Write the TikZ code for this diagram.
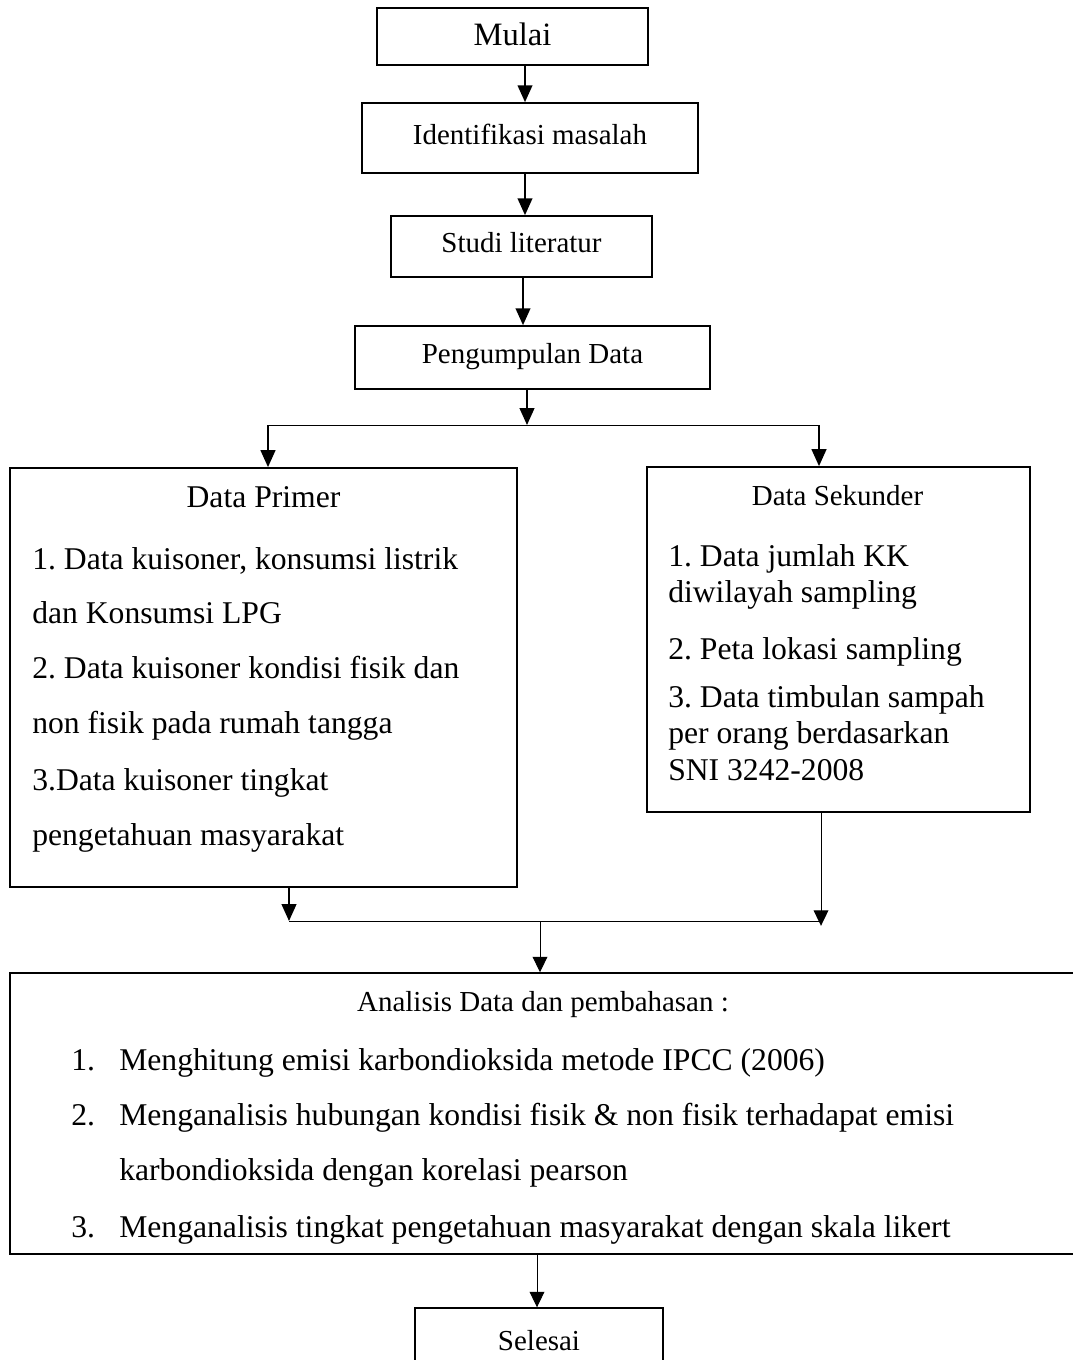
\documentclass[tikz,border=0pt]{standalone}
\usepackage{fontspec}
\setmainfont{Liberation Serif}
\usetikzlibrary{arrows.meta}
\frenchspacing
\tikzset{
    box/.style={draw=black, line width=1.2pt, inner sep=0pt,
        font=\fontsize{20.6}{25}\selectfont, text height=12.8pt, text depth=4pt},
    flow/.style={draw=black, line width=1.2pt, -{Triangle[length=12pt,width=10.5pt]}},
    thinflow/.style={draw=black, line width=0.7pt, -{Triangle[length=11pt,width=10.5pt]}},
    thinline/.style={draw=black, line width=0.7pt},
    bodytext/.style={font=\fontsize{22.5}{27}\selectfont, inner sep=0pt, anchor=base west},
    headtext/.style={font=\fontsize{20.6}{25}\selectfont, inner sep=0pt, anchor=base},
}

\begin{document}
\begin{tikzpicture}[x=0.025cm, y=-0.025cm]

\useasboundingbox (0,0) rectangle (1072,1360);

		% top chain
		\node[box, minimum width=6.775cm, minimum height=1.425cm,
			font=\fontsize{23.2}{27}\selectfont, text height=13pt, text depth=0pt] (mulai) at (512.5,36.5) {Mulai};
		\node[box, minimum width=8.4cm, minimum height=1.75cm] (ident) at (530,138) {Identifikasi masalah};
		\node[box, minimum width=6.525cm, minimum height=1.525cm] (studi) at (521.5,246.5) {Studi literatur};
		\node[box, minimum width=8.875cm, minimum height=1.575cm] (kumpul) at (532.5,357.5) {Pengumpulan Data};

		\draw[flow] ([xshift=0.3125cm]mulai.south) coordinate (a1) -- (a1 |- ident.north);
		\draw[flow] ([xshift=-0.125cm]ident.south) coordinate (a2) -- (a2 |- studi.north);
		\draw[flow] ([xshift=0.0375cm]studi.south) coordinate (a3) -- (a3 |- kumpul.north);

		% data boxes
		\node[box, minimum width=12.675cm, minimum height=10.475cm] (primer) at (263.5,677.5) {};
		\node[box, minimum width=9.575cm, minimum height=8.625cm] (sekunder) at (838.5,639.5) {};

		\coordinate (split) at (527,425);
		\coordinate (splitL) at (268,425);
		\coordinate (splitR) at (819,425);
		\draw[flow] (split |- kumpul.south) -- (split);
		\draw[thinline] (splitL) -- (splitR);
		\draw[flow] (splitL) -- (splitL |- primer.north);
		\draw[flow] (splitR) -- (splitR |- sekunder.north);

		\node[bodytext, anchor=base] (primerhead) at (263.5,507) {Data Primer};
		\foreach \yy/\txt [count=\i] in {569/{1. Data kuisoner, konsumsi listrik},
				623/{dan Konsumsi LPG},
				678/{2. Data kuisoner kondisi fisik dan},
				733/{non fisik pada rumah tangga},
				790/{3.Data kuisoner tingkat},
				845/{pengetahuan masyarakat}}
			\node[bodytext] (primer\i) at (32,\yy) {\txt};

		\node[headtext] (sekunderhead) at (837.5,505) {Data Sekunder};
		\foreach \yy/\txt [count=\i] in {566/{1. Data jumlah KK},
				602/{diwilayah sampling},
				659/{2. Peta lokasi sampling},
				707/{3. Data timbulan sampah},
				743/{per orang berdasarkan},
				780/{SNI 3242-2008}}
			\node[bodytext] (sekunder\i) at (668,\yy) {\txt};

		% analysis
		\node[box, line width=1pt, minimum width=26.65cm, minimum height=7.025cm] (analisis) at (543,1113.5) {};

		\coordinate (mergeL) at (289,921);
		\coordinate (mergeR) at (821,921);
		\coordinate (merge) at (540,921);
		\draw[flow] (mergeL |- primer.south) -- (mergeL);
		\draw[thinflow] (mergeR |- sekunder.south) -- ([yshift=-0.12cm]mergeR);
		\draw[thinline] (mergeL) -- (mergeR);
		\draw[thinflow] (merge) -- (merge |- analisis.north);

		\node[headtext] (analisishead) at (543,1011) {Analisis Data dan pembahasan :};
		\foreach \yy/\num/\txt [count=\i] in {1070/1./{Menghitung emisi karbondioksida metode IPCC (2006)},
				1125/2./{Menganalisis hubungan kondisi fisik \& non fisik terhadapat emisi},
				1180/{}/{karbondioksida dengan korelasi pearson},
				1237/3./{Menganalisis tingkat pengetahuan masyarakat dengan skala likert}}
		{
			\node[bodytext] (itemnum\i) at (71,\yy) {\num};
			\node[bodytext] (item\i) at (119,\yy) {\txt};
		}

		% end
		\node[box, line width=1pt, minimum width=6.2cm, minimum height=1.8cm] (selesai) at (539,1344) {Selesai};
		\draw[thinflow] ([xshift=-0.15cm]analisis.south) coordinate (a5) -- (a5 |- selesai.north);

\end{tikzpicture}
\end{document}
